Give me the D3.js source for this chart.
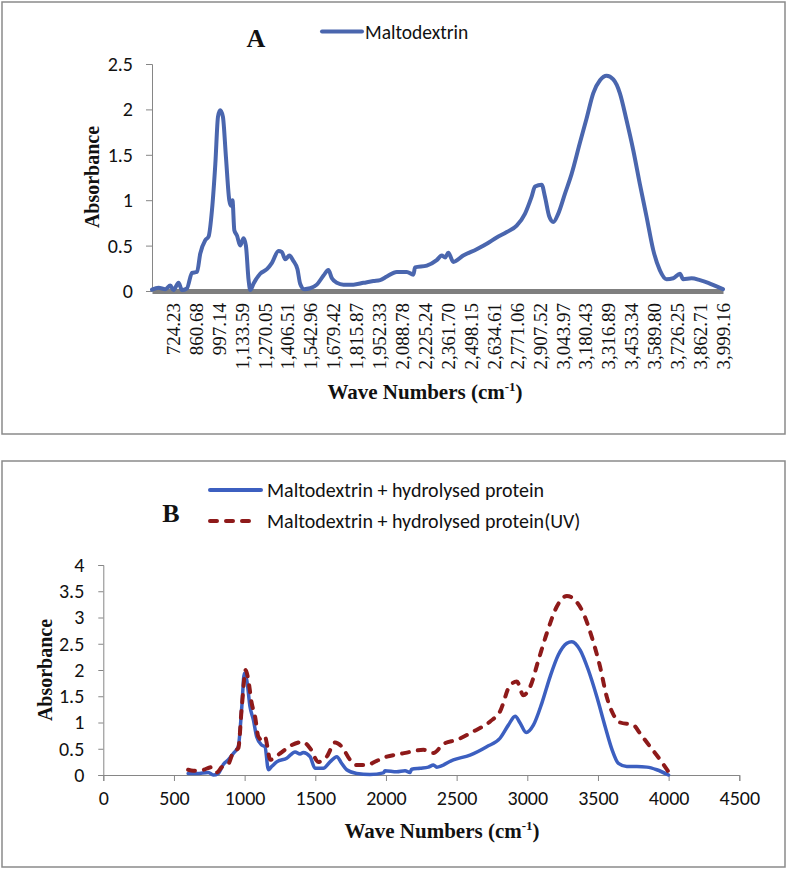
<!DOCTYPE html>
<html>
<head>
<meta charset="utf-8">
<script src="https://cdn.jsdelivr.net/npm/d3@7"></script>
<style>
  html, body { margin: 0; padding: 0; background: #fff; }
  svg { display: block; }
</style>
</head>
<body>
<svg id="chart" width="787" height="869"></svg>
<script>
// ---------- Panel A data: Maltodextrin ----------
const waveA = [600, 639, 679, 709, 728, 758, 778, 808, 838, 868, 887, 917, 937, 957, 977, 993, 1006, 1022, 1040, 1060, 1070, 1079, 1090, 1106, 1125, 1145, 1159, 1175, 1185, 1204, 1244, 1284, 1314, 1353, 1373, 1393, 1418, 1442, 1466, 1482, 1506, 1542, 1581, 1621, 1650, 1671, 1700, 1740, 1799, 1859, 1918, 1958, 1998, 2057, 2117, 2156, 2166, 2236, 2295, 2325, 2345, 2364, 2394, 2453, 2533, 2593, 2652, 2712, 2771, 2820, 2860, 2880, 2920, 2939, 2965, 2989, 3018, 3058, 3098, 3147, 3187, 3227, 3267, 3306, 3346, 3385, 3425, 3465, 3504, 3544, 3584, 3623, 3663, 3703, 3743, 3762, 3812, 3862, 3911, 3961, 3999.16];
const absA = [0.015, 0.035, 0.02, 0.06, 0.01, 0.09, 0.01, 0.03, 0.2, 0.21, 0.41, 0.56, 0.6, 0.89, 1.4, 1.92, 1.99, 1.92, 1.48, 1.0, 0.94, 1.0, 0.67, 0.61, 0.5, 0.58, 0.5, 0.12, 0.01, 0.08, 0.19, 0.24, 0.31, 0.44, 0.43, 0.35, 0.39, 0.33, 0.24, 0.08, 0.02, 0.03, 0.07, 0.17, 0.23, 0.14, 0.09, 0.07, 0.07, 0.09, 0.11, 0.12, 0.16, 0.21, 0.21, 0.18, 0.26, 0.28, 0.34, 0.39, 0.37, 0.42, 0.32, 0.39, 0.46, 0.52, 0.59, 0.65, 0.72, 0.85, 1.04, 1.15, 1.17, 1.04, 0.82, 0.76, 0.85, 1.07, 1.29, 1.63, 1.90, 2.18, 2.32, 2.37, 2.33, 2.18, 1.88, 1.55, 1.18, 0.82, 0.45, 0.23, 0.13, 0.14, 0.19, 0.13, 0.14, 0.12, 0.09, 0.05, 0.02];
const tickLabelsA = ["724.23", "860.68", "997.14", "1,133.59", "1,270.05", "1,406.51", "1,542.96", "1,679.42", "1,815.87", "1,952.33", "2,088.78", "2,225.24", "2,361.70", "2,498.15", "2,634.61", "2,771.06", "2,907.52", "3,043.97", "3,180.43", "3,316.89", "3,453.34", "3,589.80", "3,726.25", "3,862.71", "3,999.16"];
const yTicksA = [0, 0.5, 1, 1.5, 2, 2.5];
const seriesNameA = "Maltodextrin";

// ---------- Panel B data ----------
const waveB1 = [600, 661, 743, 778, 814, 849, 885, 920, 955, 980, 998, 1015, 1038, 1062, 1085, 1121, 1144, 1168, 1191, 1227, 1298, 1357, 1392, 1415, 1463, 1498, 1557, 1604, 1652, 1687, 1722, 1793, 1887, 1982, 1993, 2076, 2135, 2170, 2182, 2241, 2300, 2336, 2359, 2477, 2595, 2713, 2807, 2866, 2914, 2949, 2992, 3043, 3103, 3161, 3220, 3280, 3315, 3374, 3432, 3492, 3551, 3600, 3645, 3704, 3775, 3846, 3916, 3999];
const absB1 = [0.03, 0.03, 0.05, 0.0, 0.03, 0.2, 0.29, 0.41, 0.54, 1.3, 1.94, 1.81, 1.3, 1.05, 0.73, 0.57, 0.54, 0.1, 0.16, 0.25, 0.32, 0.44, 0.4, 0.43, 0.35, 0.13, 0.13, 0.25, 0.35, 0.22, 0.1, 0.03, 0.01, 0.04, 0.08, 0.06, 0.08, 0.05, 0.11, 0.13, 0.15, 0.19, 0.15, 0.29, 0.38, 0.54, 0.7, 0.95, 1.12, 0.99, 0.81, 0.95, 1.37, 1.87, 2.29, 2.51, 2.54, 2.38, 2.0, 1.49, 0.92, 0.48, 0.22, 0.16, 0.16, 0.15, 0.1, 0.0];
const waveB2 = [600, 637, 708, 767, 803, 838, 885, 920, 955, 980, 1008, 1026, 1050, 1074, 1097, 1121, 1144, 1161, 1180, 1250, 1333, 1411, 1463, 1522, 1581, 1640, 1687, 1746, 1793, 1864, 1935, 2006, 2100, 2170, 2265, 2336, 2406, 2501, 2619, 2737, 2807, 2878, 2926, 2972, 3020, 3079, 3138, 3209, 3280, 3338, 3397, 3456, 3515, 3562, 3611, 3657, 3751, 3798, 3869, 3940, 3999];
const absB2 = [0.1, 0.08, 0.1, 0.15, 0.05, 0.15, 0.21, 0.44, 0.51, 1.3, 2.0, 1.81, 1.37, 1.11, 0.73, 0.67, 0.73, 0.54, 0.29, 0.41, 0.57, 0.63, 0.51, 0.25, 0.35, 0.62, 0.54, 0.29, 0.19, 0.19, 0.27, 0.35, 0.4, 0.44, 0.48, 0.42, 0.59, 0.67, 0.83, 1.02, 1.21, 1.71, 1.78, 1.52, 1.68, 2.19, 2.7, 3.21, 3.41, 3.33, 3.08, 2.63, 2.06, 1.49, 1.14, 1.0, 0.95, 0.79, 0.54, 0.29, 0.06];
const xTicksB = [0, 500, 1000, 1500, 2000, 2500, 3000, 3500, 4000, 4500];
const yTicksB = [0, 0.5, 1, 1.5, 2, 2.5, 3, 3.5, 4];
const seriesNamesB = ["Maltodextrin + hydrolysed protein", "Maltodextrin + hydrolysed protein(UV)"];

// ---------- styles ----------
const SANS = "Carlito, Lato, 'Liberation Sans', sans-serif";
const SERIF = "'Liberation Serif', 'Times New Roman', serif";
const AXIS_GREY = "#868686";
const BLUE_A = "#4a66ae";
const BLUE_B = "#3c5fc0";
const RED_B = "#8e1a1a";

const svg = d3.select("#chart");

function frame(x0, y0, x1, y1) {
  svg.append("rect").attr("x", x0).attr("y", y0).attr("width", x1 - x0).attr("height", y1 - y0)
    .attr("fill", "none").attr("stroke", "#8a8a8a").attr("stroke-width", 1.5);
}

function xTitle(cx, y) {
  const t = svg.append("text").attr("x", cx).attr("y", y).attr("text-anchor", "middle")
    .attr("font-family", SERIF).attr("font-weight", "bold").attr("font-size", 21).attr("fill", "#111");
  t.append("tspan").text("Wave Numbers (cm");
  t.append("tspan").attr("dy", -8).attr("font-size", 13).text("-1");
  t.append("tspan").attr("dy", 8).text(")");
}

function yTitle(cx, cy) {
  svg.append("text").attr("transform", `translate(${cx},${cy}) rotate(-90)`)
    .attr("text-anchor", "middle").attr("dominant-baseline", "central")
    .attr("font-family", SERIF).attr("font-weight", "bold").attr("font-size", 20).attr("fill", "#111")
    .text("Absorbance");
}

// ================= Panel A =================
frame(2, 2, 785, 434);
const xA = d3.scaleLinear().domain([600, 3999.16]).range([152, 723]);
const yA = d3.scaleLinear().domain([0, 2.5]).range([291, 64]);

// y axis
const gyA = svg.append("g").attr("transform", "translate(152,0)")
  .call(d3.axisLeft(yA).tickValues(yTicksA).tickSize(6).tickPadding(13).tickFormat(d3.format("")));
gyA.select(".domain").attr("stroke", AXIS_GREY);
gyA.selectAll(".tick line").attr("stroke", AXIS_GREY);
gyA.selectAll("text").attr("font-family", SANS).attr("font-size", 20).attr("fill", "#111");

// x axis (thick grey category bar with rotated labels)
const gxA = svg.append("g").attr("transform", "translate(0,291)")
  .call(d3.axisBottom(xA).tickValues(tickLabelsA.map(s => +s.replace(/,/g, ""))).tickSize(0)
    .tickFormat((d, i) => tickLabelsA[i]));
gxA.select(".domain").attr("stroke", "#7f7f7f").attr("stroke-width", 5);
gxA.selectAll(".tick text")
  .attr("font-family", SERIF).attr("font-size", 19).attr("fill", "#111")
  .attr("text-anchor", "end").attr("dominant-baseline", "central")
  .attr("dy", null).attr("y", 0)
  .attr("transform", "translate(0,12) rotate(-90)");

// line
svg.append("path").datum(waveA.map((w, i) => [w, absA[i]]))
  .attr("fill", "none").attr("stroke", BLUE_A).attr("stroke-width", 4)
  .attr("stroke-linejoin", "round").attr("stroke-linecap", "round")
  .attr("d", d3.line().x(d => xA(d[0])).y(d => yA(d[1])).curve(d3.curveMonotoneX));

// title and legend
svg.append("text").attr("x", 256).attr("y", 47).attr("text-anchor", "middle")
  .attr("font-family", SERIF).attr("font-weight", "bold").attr("font-size", 26).attr("fill", "#111").text("A");
svg.append("line").attr("x1", 322).attr("x2", 362).attr("y1", 31.5).attr("y2", 31.5)
  .attr("stroke", BLUE_A).attr("stroke-width", 4).attr("stroke-linecap", "round");
svg.append("text").attr("x", 365).attr("y", 31.5).attr("dominant-baseline", "central")
  .attr("font-family", SANS).attr("font-size", 19.5).attr("fill", "#111").text(seriesNameA);

yTitle(92, 177);
xTitle(425, 399);

// ================= Panel B =================
frame(2, 461, 785, 867);
const xB = d3.scaleLinear().domain([0, 4500]).range([103.3, 739.3]);
const yB = d3.scaleLinear().domain([0, 4]).range([775, 565]);

const gyB = svg.append("g").attr("transform", "translate(103.3,0)")
  .call(d3.axisLeft(yB).tickValues(yTicksB).tickSize(5).tickPadding(14).tickFormat(d3.format("")));
gyB.select(".domain").attr("stroke", AXIS_GREY);
gyB.selectAll(".tick line").attr("stroke", AXIS_GREY);
gyB.selectAll("text").attr("font-family", SANS).attr("font-size", 20).attr("fill", "#111");

const gxB = svg.append("g").attr("transform", "translate(0,775)")
  .call(d3.axisBottom(xB).tickValues(xTicksB).tickSize(6).tickPadding(10).tickFormat(d3.format("")));
gxB.select(".domain").attr("stroke", AXIS_GREY);
gxB.selectAll(".tick line").attr("stroke", AXIS_GREY);
gxB.selectAll("text").attr("font-family", SANS).attr("font-size", 20).attr("fill", "#111");

const lineB = d3.line().x(d => xB(d[0])).y(d => yB(d[1])).curve(d3.curveMonotoneX);
svg.append("path").datum(waveB1.map((w, i) => [w, absB1[i]]))
  .attr("fill", "none").attr("stroke", BLUE_B).attr("stroke-width", 3.5)
  .attr("stroke-linejoin", "round").attr("stroke-linecap", "round").attr("d", lineB);
svg.append("path").datum(waveB2.map((w, i) => [w, absB2[i]]))
  .attr("fill", "none").attr("stroke", RED_B).attr("stroke-width", 4)
  .attr("stroke-dasharray", "7,9").attr("stroke-linecap", "round").attr("d", lineB);

// title & legend
svg.append("text").attr("x", 171).attr("y", 522).attr("text-anchor", "middle")
  .attr("font-family", SERIF).attr("font-weight", "bold").attr("font-size", 26).attr("fill", "#111").text("B");
svg.append("line").attr("x1", 210).attr("x2", 261).attr("y1", 490).attr("y2", 490)
  .attr("stroke", BLUE_B).attr("stroke-width", 4).attr("stroke-linecap", "round");
svg.append("text").attr("x", 267).attr("y", 490).attr("dominant-baseline", "central")
  .attr("font-family", SANS).attr("font-size", 20).attr("fill", "#111").text(seriesNamesB[0]);
svg.append("line").attr("x1", 210).attr("x2", 257).attr("y1", 521).attr("y2", 521)
  .attr("stroke", RED_B).attr("stroke-width", 4).attr("stroke-dasharray", "7,9").attr("stroke-linecap", "round");
svg.append("text").attr("x", 267).attr("y", 521).attr("dominant-baseline", "central")
  .attr("font-family", SANS).attr("font-size", 20).attr("fill", "#111").text(seriesNamesB[1]);

yTitle(45, 670);
xTitle(442, 838);
</script>
</body>
</html>
